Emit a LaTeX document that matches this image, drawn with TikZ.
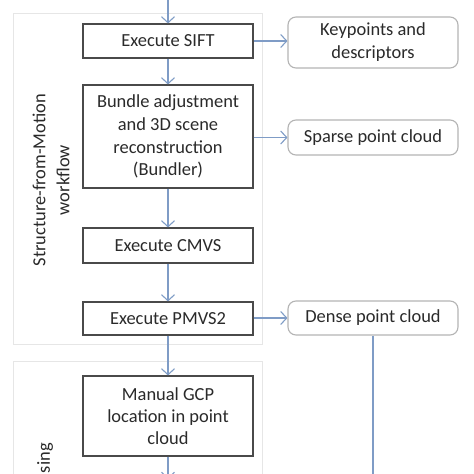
\documentclass[tikz,border=0pt]{standalone}
\usepackage{fontspec}
\setmainfont{Carlito}
\usetikzlibrary{arrows.meta}
\definecolor{arrowblue}{HTML}{7F9CC6}
\definecolor{boxgray}{HTML}{4A4A4A}
\definecolor{roundgray}{HTML}{B4B4B4}
\definecolor{groupgray}{HTML}{E6E6E6}
\definecolor{txt}{HTML}{2A2A2A}
\begin{document}
\begin{tikzpicture}[x=1bp,y=-1bp,
  every node/.style={font=\fontsize{18.5}{23}\selectfont, text=txt, inner sep=0pt},
  stepbox/.style={draw=boxgray, line width=1.1bp, minimum width=170bp, align=center, fill=white},
  outbox/.style={draw=roundgray, line width=1.1bp, rounded corners=8bp, minimum width=170bp, align=center, fill=white},
  groupbox/.style={draw=groupgray, line width=1bp},
  flow/.style={draw=arrowblue, line width=1.1bp, -{Straight Barb[length=6bp,width=13bp,line width=1.1bp]}},
  plainflow/.style={draw=arrowblue, line width=1.1bp}
]
\useasboundingbox (0,0) rectangle (474,474);
\fill[white] (0,0) rectangle (474,474);
% group frames
\draw[groupbox] (13,14) rectangle (262,344);
\draw[groupbox] (13,361) rectangle (262,490);
% left column
\node[stepbox, minimum height=34bp] (sift) at (168,41) {Execute SIFT};
\node[stepbox, minimum height=103bp] (bundle) at (168,136.5) {Bundle adjustment\\and 3D scene\\reconstruction\\(Bundler)};
\node[stepbox, minimum height=35bp] (cmvs) at (168,245.5) {Execute CMVS};
\node[stepbox, minimum height=33bp] (pmvs) at (168,318.5) {Execute PMVS2};
\node[stepbox, minimum height=80bp, font=\fontsize{18.5}{22}\selectfont] (gcp) at (168,416) {Manual GCP\\location in point\\cloud};
% right column
\node[outbox, minimum height=51bp] (kp) at (373,42.5) {Keypoints and\\descriptors};
\node[outbox, minimum height=35bp] (sparse) at (373,137.5) {Sparse point cloud};
\node[outbox, minimum height=34bp] (dense) at (373,318) {Dense point cloud};
% group labels
\node[rotate=90, align=center, font=\fontsize{18.5}{24}\selectfont] (sfmlabel) at (51,180) {Structure-from-Motion\\workflow};
\node[rotate=90, anchor=east] (proclabel) at (45,443) {sing};
% connectors
\coordinate (topin) at (168,-2);
\coordinate (botout) at (168,479);
\coordinate (denseout) at (373,476);
\draw[flow] (topin) -- (sift.north);
\draw[flow] (sift) -- (bundle);
\draw[flow] (bundle) -- (cmvs);
\draw[flow] (cmvs) -- (pmvs);
\draw[flow] (pmvs) -- (gcp);
\draw[flow] (gcp) -- (botout);
\draw[flow] (sift.east) -- (kp.west |- sift.east);
\draw[flow] (bundle.east |- sparse.west) -- (sparse.west);
\draw[flow] (pmvs.east |- dense.west) -- (dense.west);
\draw[plainflow] (dense.south) -- (denseout);
\end{tikzpicture}
\end{document}
